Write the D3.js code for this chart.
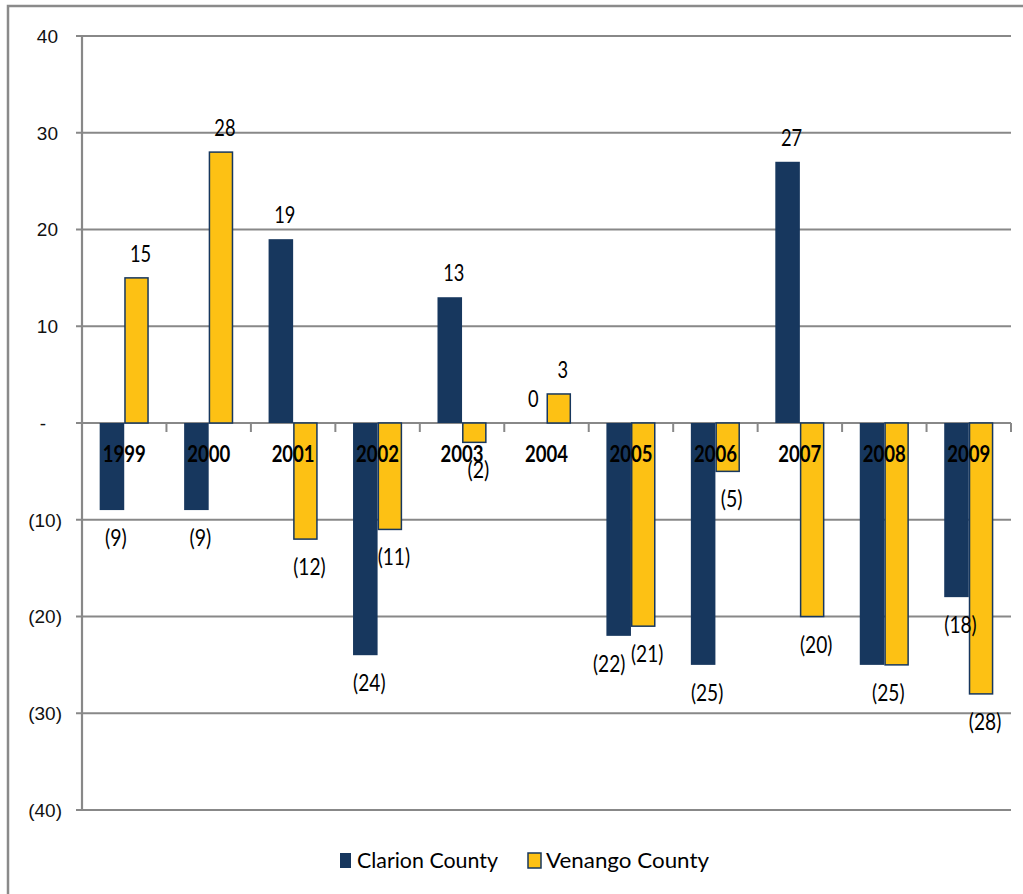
<!DOCTYPE html>
<html>
<head>
<meta charset="utf-8">
<script src="https://cdn.jsdelivr.net/npm/d3@7"></script>
<style>
  html, body { margin: 0; padding: 0; background: #fff; }
  svg { display: block; }
</style>
</head>
<body>
<svg id="chart" width="1023" height="894"></svg>
<script>
// Annual change by county, 1999-2009
const years = ["1999", "2000", "2001", "2002", "2003", "2004", "2005", "2006", "2007", "2008", "2009"];
const seriesNames = ["Clarion County", "Venango County"];
const clarion = [-9, -9, 19, -24, 13, 0, -22, -25, 27, -25, -18];
const venango = [15, 28, -12, -11, -2, 3, -21, -5, -20, -25, -28];
const yTicks = [40, 30, 20, 10, 0, -10, -20, -30, -40];

const NAVY = "#17375e";
const GOLD = "#fdc114";
const GRID = "#888888";

// horizontal nudges for a few crowded value labels (year index -> px)
const labelNudge = {
  "Clarion County": { 5: -5, 6: -13.5 }
};

const svg = d3.select("#chart");
svg.append("rect").attr("width", 1023).attr("height", 894).attr("fill", "#fff");

// outer frame
svg.append("rect")
  .attr("x", 8).attr("y", 6).attr("width", 1040).attr("height", 920)
  .attr("fill", "none").attr("stroke", "#8a8a8a").attr("stroke-width", 2.5);

const y = d3.scaleLinear().domain([-40, 40]).range([810, 36]);
const x = d3.scaleBand().domain(years).range([82, 1011]).paddingInner(0).paddingOuter(0);
const xs = d3.scaleBand().domain(seriesNames).range([0, x.bandwidth()]).paddingInner(0).paddingOuter(0.72);

const fmt = v => v === 0 ? "-" : (v < 0 ? `(${Math.abs(v)})` : `${v}`);
const valueText = v => v < 0 ? `(${-v})` : `${v}`;

// gridlines
svg.append("g").selectAll("line").data(yTicks).join("line")
  .attr("x1", 76).attr("x2", 1011)
  .attr("y1", d => y(d)).attr("y2", d => y(d))
  .attr("stroke", GRID).attr("stroke-width", 2.2);

// value axis line
svg.append("line")
  .attr("x1", 82).attr("x2", 82).attr("y1", y(40)).attr("y2", y(-40))
  .attr("stroke", GRID).attr("stroke-width", 2.2);

// value axis labels (accounting style: negatives in brackets, zero as a dash)
const yLabels = svg.append("g");
yTicks.forEach(v => {
  yLabels.append("text")
    .attr("x", v > 0 ? 58 : (v < 0 ? 62 : 43))
    .attr("y", y(v))
    .attr("dy", "0.36em")
    .style("text-anchor", v === 0 ? "middle" : "end")
    .attr("font-family", "'Liberation Sans', Arial, sans-serif")
    .attr("font-size", 19)
    .attr("fill", "#111")
    .text(fmt(v));
});

// category tick marks along the zero line
svg.append("g").selectAll("line").data(years).join("line")
  .attr("x1", d => x(d) + x.bandwidth()).attr("x2", d => x(d) + x.bandwidth())
  .attr("y1", y(0)).attr("y2", y(0) + 9)
  .attr("stroke", GRID).attr("stroke-width", 2);

const rows = [];
years.forEach((yr, i) => {
  rows.push({ year: yr, i, series: "Clarion County", value: clarion[i] });
  rows.push({ year: yr, i, series: "Venango County", value: venango[i] });
});

// bars
svg.append("g").selectAll("rect").data(rows).join("rect")
  .attr("x", d => x(d.year) + xs(d.series) + (d.series === "Venango County" ? 0.75 : 0))
  .attr("width", d => xs.bandwidth() - (d.series === "Venango County" ? 1.5 : 0))
  .attr("y", d => Math.min(y(d.value), y(0)))
  .attr("height", d => Math.abs(y(d.value) - y(0)))
  .attr("fill", d => d.series === "Clarion County" ? NAVY : GOLD)
  .attr("stroke", d => d.series === "Venango County" ? NAVY : "none")
  .attr("stroke-width", 1.5);

// category labels, drawn over the bars
svg.append("g").selectAll("text").data(years).join("text")
  .attr("x", d => x(d) + x.bandwidth() / 2)
  .attr("y", 462)
  .attr("text-anchor", "middle")
  .attr("font-family", "Lato, 'DejaVu Sans', sans-serif")
  .attr("font-weight", "bold")
  .attr("font-size", 23)
  .attr("textLength", 43)
  .attr("lengthAdjust", "spacingAndGlyphs")
  .attr("fill", "#000")
  .text(d => d);

// value labels; when both counties share the same value in a year,
// one label sits centred under the pair
const labels = [];
years.forEach((yr, i) => {
  const a = clarion[i], b = venango[i];
  if (a === b && a !== 0) {
    labels.push({ value: a, cx: x(yr) + x.bandwidth() / 2 + 4 });
  } else {
    seriesNames.forEach((s, k) => {
      const v = k === 0 ? a : b;
      labels.push({
        value: v,
        cx: x(yr) + xs(s) + xs.bandwidth() / 2 + 4 + ((labelNudge[s] || {})[i] || 0)
      });
    });
  }
});
const labelWidth = s => {
  let w = 0;
  for (const c of s) w += (c === "(" || c === ")") ? 5.6 : 10.6;
  return w;
};
svg.append("g").selectAll("text").data(labels).join("text")
  .attr("x", d => d.cx)
  .attr("y", d => d.value >= 0 ? y(d.value) - 16 : y(d.value) + 36)
  .attr("text-anchor", "middle")
  .attr("font-family", "Lato, 'DejaVu Sans', sans-serif")
  .attr("font-size", 23)
  .attr("textLength", d => labelWidth(valueText(d.value)))
  .attr("lengthAdjust", "spacingAndGlyphs")
  .attr("fill", "#000")
  .text(d => valueText(d.value));

// legend
const legend = [
  { name: "Clarion County", sx: 340, sw: 11, tx: 357, tw: 141 },
  { name: "Venango County", sx: 528, sw: 13, tx: 546, tw: 163 }
];
const lg = svg.append("g").selectAll("g").data(legend).join("g");
lg.append("rect")
  .attr("x", d => d.sx).attr("y", 853).attr("width", d => d.sw).attr("height", 15)
  .attr("fill", d => d.name === "Clarion County" ? NAVY : GOLD)
  .attr("stroke", d => d.name === "Venango County" ? NAVY : "none")
  .attr("stroke-width", 1.5);
lg.append("text")
  .attr("x", d => d.tx).attr("y", 868)
  .attr("font-family", "Lato, 'DejaVu Sans', sans-serif")
  .attr("font-size", 22)
  .attr("textLength", d => d.tw)
  .attr("lengthAdjust", "spacingAndGlyphs")
  .attr("fill", "#000")
  .text(d => d.name);
</script>
</body>
</html>
